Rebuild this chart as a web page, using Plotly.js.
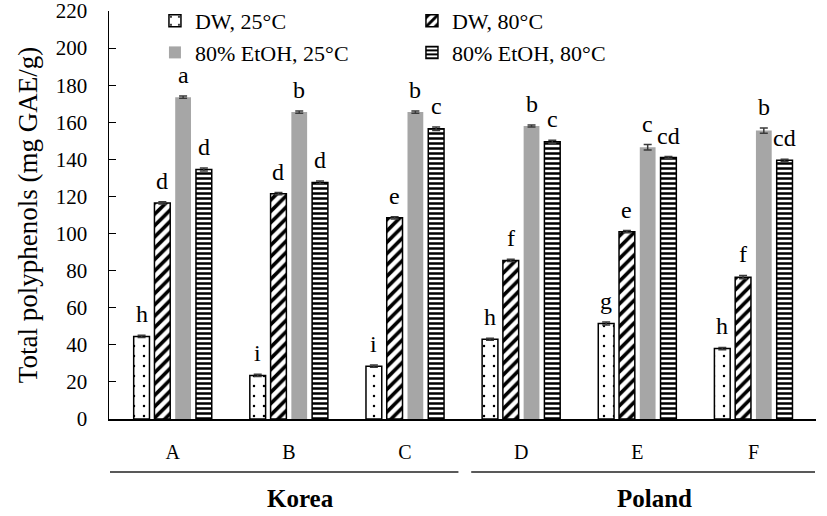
<!DOCTYPE html>
<html>
<head>
<meta charset="utf-8">
<script src="https://cdn.plot.ly/plotly-3.0.1.min.js"></script>
<style>html,body{margin:0;padding:0;background:#fff;}#chart{width:827px;height:516px;}</style>
</head>
<body>
<div id="chart"></div>
<script>
// ---- data ----
const categories = ["A", "B", "C", "D", "E", "F"];
const seriesNames = ["DW, 25°C", "DW, 80°C", "80% EtOH, 25°C", "80% EtOH, 80°C"];
const dw25 = [44.5, 23.5, 28.5, 43, 51.5, 38];
const dw80 = [116.5, 121.5, 108.5, 85.5, 101, 76.5];
const etoh25 = [173.5, 165.5, 165.5, 158, 146.5, 155.5];
const etoh80 = [134.5, 127.5, 156.5, 149.5, 141, 139.5];
const err25dw = [0.6, 0.6, 0.6, 0.6, 0.8, 0.6];
const err80dw = [0.6, 0.6, 0.6, 0.6, 0.6, 0.9];
const err25et = [0.6, 0.6, 0.6, 0.5, 1.5, 1.4];
const err80et = [0.8, 0.8, 0.9, 0.8, 0.5, 0.6];
const letters25dw = ["h", "i", "i", "h", "g", "h"];
const letters80dw = ["d", "d", "e", "f", "e", "f"];
const letters25et = ["a", "b", "b", "b", "c", "b"];
const letters80et = ["d", "d", "c", "c", "cd", "cd"];
const groupNames = ["Korea", "Poland"];
const yTicks = [0, 20, 40, 60, 80, 100, 120, 140, 160, 180, 200, 220];

const FONT = "Liberation Serif, Times New Roman, serif";
const values = [dw25, dw80, etoh25, etoh80];
const errs = [err25dw, err80dw, err25et, err80et];
const letters = [letters25dw, letters80dw, letters25et, letters80et];

const styles = [
  {color: "#ffffff", line: {color: "#000", width: 1.5}, pattern: {shape: ".", fillmode: "overlay", fgcolor: "#000", bgcolor: "#fff", size: 10, solidity: 0.05, fgopacity: 1}},
  {color: "#ffffff", line: {color: "#000", width: 1.5}, pattern: {shape: "/", fillmode: "overlay", fgcolor: "#000", bgcolor: "#fff", size: 8, solidity: 0.45, fgopacity: 1}},
  {color: "#a6a6a6", line: {color: "#a6a6a6", width: 0}},
  {color: "#ffffff", line: {color: "#000", width: 1.5}, pattern: {shape: "-", fillmode: "overlay", fgcolor: "#000", bgcolor: "#fff", size: 5, solidity: 0.5, fgopacity: 1}}
];

const bargap = 0.285;
const traces = values.map((v, j) => ({
  type: "bar",
  name: seriesNames[j],
  x: categories,
  y: v,
  marker: styles[j],
  error_y: {type: "data", array: errs[j], visible: true, color: "#3a3a3a", thickness: 1.5, width: 4},
  hoverinfo: "none"
}));

const slot = (1 - bargap) / 4;
const annotations = [];
values.forEach((v, j) => {
  v.forEach((val, i) => {
    annotations.push({
      x: i + (j - 1.5) * slot, y: val + errs[j][i], xref: "x", yref: "y",
      text: letters[j][i], showarrow: false, yanchor: "bottom", yshift: 6,
      font: {family: FONT, size: 24, color: "#000"}
    });
  });
});
annotations.push({x: 1.1, y: -0.195, xref: "x", yref: "paper", text: "<b>" + groupNames[0] + "</b>", showarrow: false, yanchor: "middle", font: {family: FONT, size: 25, color: "#000"}});
annotations.push({x: 4.15, y: -0.195, xref: "x", yref: "paper", text: "<b>" + groupNames[1] + "</b>", showarrow: false, yanchor: "middle", font: {family: FONT, size: 25, color: "#000"}});

const shapes = [
  {type: "line", xref: "x", yref: "paper", x0: -0.54, x1: 2.46, y0: -0.13, y1: -0.13, line: {color: "#595959", width: 2}},
  {type: "line", xref: "x", yref: "paper", x0: 2.57, x1: 5.53, y0: -0.13, y1: -0.13, line: {color: "#595959", width: 2}}
];

const layout = {
  width: 827, height: 516,
  margin: {l: 109, r: 11, t: 11, b: 97, autoexpand: false},
  paper_bgcolor: "#fff", plot_bgcolor: "#fff",
  font: {family: FONT, color: "#000"},
  barmode: "group", bargap: bargap, bargroupgap: 0.24,
  showlegend: true,
  legend: {orientation: "h", x: 0.065, xanchor: "left", yref: "container", y: 1.0, yanchor: "top", entrywidth: 212,
           font: {family: FONT, size: 22, color: "#000"}, bgcolor: "rgba(0,0,0,0)", traceorder: "normal"},
  xaxis: {type: "category", showline: true, linecolor: "#000", linewidth: 2, ticks: "", showgrid: false,
          tickfont: {family: FONT, size: 20, color: "#000"}, ticklabelstandoff: 14, zeroline: false},
  yaxis: {range: [0, 220], tickvals: yTicks, showline: true, linecolor: "#000", linewidth: 1.5, ticks: "inside", ticklen: 7,
          tickcolor: "#000", showgrid: false, zeroline: false, tickfont: {family: FONT, size: 21, color: "#000"},
          ticklabelstandoff: 16, ticklabeloverflow: "allow",
          title: {text: "Total polyphenols (mg GAE/g)", font: {family: FONT, size: 27, color: "#000"}, standoff: 10}},
  annotations: annotations,
  shapes: shapes
};

Plotly.newPlot("chart", traces, layout, {staticPlot: true, displayModeBar: false});
</script>
</body>
</html>
